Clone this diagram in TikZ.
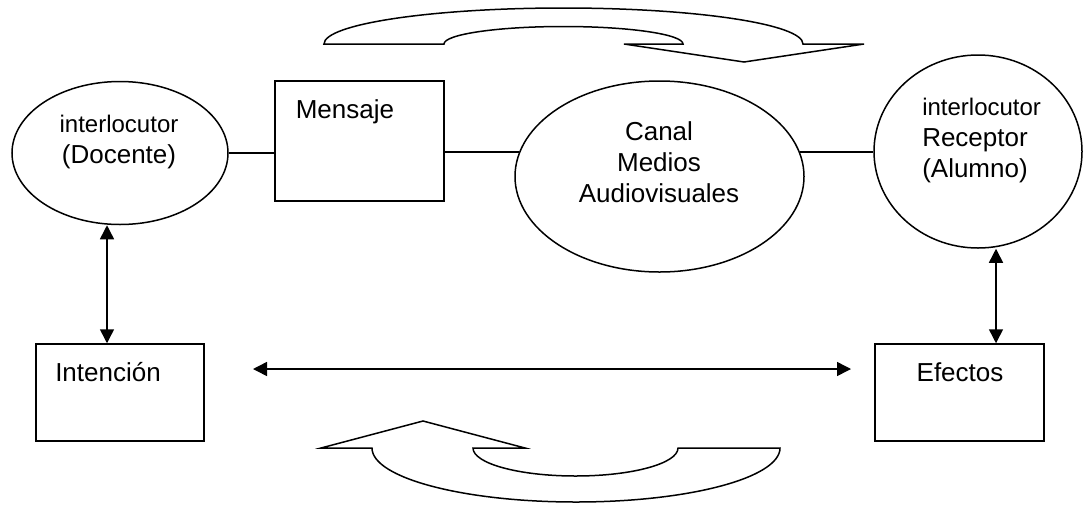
\documentclass[tikz,border=0pt]{standalone}
\usepackage{fontspec}
\setmainfont{Liberation Sans}
\usetikzlibrary{arrows.meta,shapes.geometric}
\begin{document}
\begin{tikzpicture}[x=1pt, y=-1pt, line width=1.5pt,
    oval/.style={ellipse, draw, inner sep=0pt},
    box/.style={rectangle, draw, inner sep=0pt},
    txt/.style={inner sep=0pt, font=\fontsize{26}{31}\selectfont},
    dbl/.style={{Triangle[length=14pt,width=14pt]}-{Triangle[length=14pt,width=14pt]}}]
  \useasboundingbox (0,0) rectangle (1083,504);
  \node[oval, minimum width=216pt, minimum height=143pt] (docente) at (120,153) {};
  \node[txt, align=center] (docentetxt) at (119,142) {{\fontsize{24}{31}\selectfont interlocutor}\\(Docente)};
  \node[box, minimum width=169pt, minimum height=120pt] (mensaje) at (359.5,141) {};
  \node[txt, anchor=base west] (mensajetxt) at (295,118) {Mensaje};
  \node[oval, minimum width=289pt, minimum height=191pt] (canal) at (659.5,176.5) {};
  \node[txt, align=center] (canaltxt) at (659,162.5) {Canal\\Medios\\Audiovisuales};
  \node[oval, minimum width=208pt, minimum height=193pt] (recv) at (978,151.5) {};
  \node[txt, align=left, anchor=west] (recvtxt) at (921.5,140) {{\fontsize{24}{31}\selectfont interlocutor}\\Receptor\\(Alumno)};
  \node[box, minimum width=168pt, minimum height=97pt] (intencion) at (120,392.5) {};
  \node[txt, anchor=base west] (intenciontxt) at (54.5,381) {Intención};
  \node[box, minimum width=169pt, minimum height=97pt] (efectos) at (959.5,392.5) {};
  \node[txt, anchor=base] (efectostxt) at (960,381) {Efectos};
  \coordinate (hl) at (253,369);
  \coordinate (hr) at (851,369);

  \draw (docente.east) -- (docente.east -| mensaje.west);
  \draw (mensaje.east |- canal.170) -- (canal.170);
  \draw (canal.10) -- (canal.10 -| recv.west);
  \draw[dbl] ([xshift=-13pt]docente.south) -- ([xshift=-13pt]intencion.north);
  \draw[dbl] ([xshift=18pt]recv.south) -- ([xshift=36.5pt]efectos.north);
  \draw[dbl] (hl) -- (hr);

  \draw[line join=miter] (324,44) arc[start angle=180, end angle=360, x radius=239.5, y radius=36]
    -- (864,44) -- (744,62) -- (624,44) -- (683,44)
    arc[start angle=360, end angle=180, x radius=119.5, y radius=17.5] -- cycle;
  \draw[line join=miter] (321,448) -- (423,421) -- (525,448) -- (473,448)
    arc[start angle=180, end angle=0, x radius=102.5, y radius=28] -- (780,448)
    arc[start angle=0, end angle=180, x radius=204, y radius=54] -- cycle;
\end{tikzpicture}
\end{document}
